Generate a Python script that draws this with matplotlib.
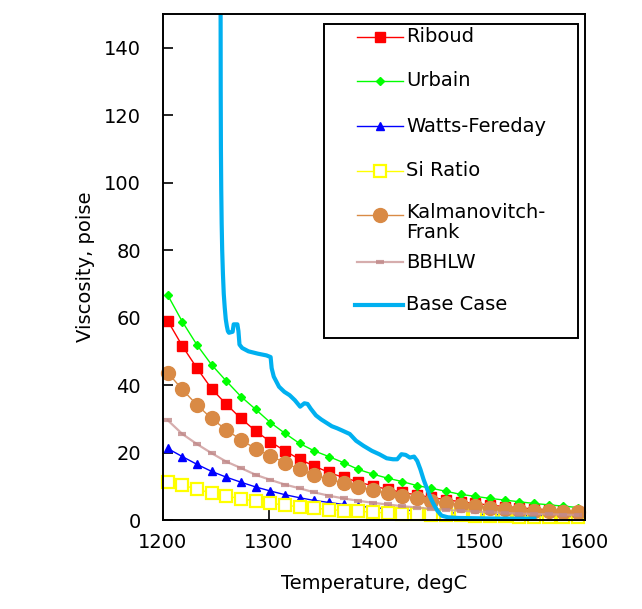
import matplotlib
matplotlib.use('Agg')
from matplotlib import pyplot as plt
from matplotlib.lines import Line2D
from matplotlib.patches import Rectangle

# temperatures of the model points, degC (25 degF steps)
temps = [1204.4, 1218.3, 1232.2, 1246.1, 1260.0, 1273.9, 1287.8, 1301.7, 1315.6, 1329.4,
         1343.3, 1357.2, 1371.1, 1385.0, 1398.9, 1412.8, 1426.7, 1440.6, 1454.4, 1468.3,
         1482.2, 1496.1, 1510.0, 1523.9, 1537.8, 1551.7, 1565.6, 1579.4, 1593.3]

riboud = [59.1, 51.6, 45.0, 38.9, 34.3, 30.1, 26.4, 23.2, 20.5, 18.0, 16.0, 14.1, 12.6, 11.3, 10.1,
          9.1, 8.2, 7.4, 6.7, 6.0, 5.4, 4.9, 4.4, 4.0, 3.6, 3.3, 3.0, 2.7, 2.5]
urbain = [66.7, 58.8, 51.9, 46.0, 41.2, 36.6, 32.8, 28.9, 25.7, 22.7, 20.5, 18.8, 17.0, 15.0, 13.6,
          12.4, 11.4, 10.2, 9.4, 8.5, 7.6, 7.0, 6.4, 5.9, 5.4, 4.9, 4.5, 4.1, 3.7]
watts = [21.2, 18.8, 16.5, 14.4, 12.7, 11.2, 9.8, 8.6, 7.5, 6.6, 5.8, 5.2, 4.6, 4.1, 3.7,
         3.3, 3.0, 2.7, 2.4, 2.2, 2.0, 1.8, 1.6, 1.5, 1.4, 1.3, 1.2, 1.1, 1.0]
si_ratio = [11.4, 10.4, 9.1, 8.0, 7.1, 6.3, 5.6, 5.0, 4.4, 3.9, 3.5, 3.1, 2.8, 2.6, 2.3,
            2.1, 1.9, 1.8, 1.6, 1.5, 1.4, 1.3, 1.2, 1.1, 1.0, 1.0, 0.9, 0.9, 0.8]
kalman = [43.7, 38.7, 34.1, 30.1, 26.7, 23.8, 21.1, 19.0, 17.0, 15.0, 13.4, 12.1, 11.0, 9.9, 8.9,
          7.9, 7.1, 6.4, 5.7, 5.1, 4.5, 4.1, 3.7, 3.3, 3.0, 2.8, 2.6, 2.4, 2.3]
bbhlw = [29.6, 25.5, 22.5, 19.8, 17.3, 15.4, 13.4, 11.9, 10.5, 9.4, 8.2, 7.2, 6.4, 5.7, 5.1,
         4.6, 4.1, 3.7, 3.3, 3.0, 2.7, 2.5, 2.3, 2.1, 1.9, 1.8, 1.7, 1.6, 1.5]

# measured base case curve
base_t = [1254.6, 1254.7, 1254.9, 1255.2, 1255.6, 1256.1, 1256.8, 1257.6, 1258.5, 1259.5,
          1260.5, 1261.5, 1262.5, 1266.0, 1267.0, 1270.5, 1271.5, 1272.5, 1275.0, 1281.0,
          1290.0, 1298.0, 1302.0, 1303.0, 1305.0, 1310.0, 1315.0, 1320.0, 1325.0, 1330.0,
          1334.0, 1337.0, 1340.0, 1345.0, 1350.0, 1355.0, 1360.0, 1365.0, 1370.0, 1377.0,
          1383.0, 1390.0, 1398.0, 1405.0, 1412.0, 1418.0, 1422.0, 1426.0, 1430.0, 1434.0,
          1438.0, 1441.0, 1444.0, 1447.0, 1450.0, 1453.0, 1456.0, 1460.0, 1464.0, 1470.0,
          1480.0, 1500.0, 1520.0, 1540.0, 1552.0]
base_v = [150.0, 127.0, 110.0, 98.0, 88.0, 80.0, 73.0, 67.0, 63.0, 59.5,
          57.5, 56.0, 55.5, 55.8, 58.0, 58.0, 56.0, 52.0, 51.0, 50.0,
          49.3, 48.8, 48.3, 45.0, 42.5, 39.5, 38.0, 37.0, 35.5, 33.6,
          34.6, 34.4, 33.0, 31.0, 29.8, 28.8, 27.8, 27.2, 26.5, 25.5,
          23.5, 22.0, 20.5, 19.5, 18.3, 18.0, 18.0, 19.5, 19.3, 18.5,
          18.8, 17.5, 15.0, 12.0, 9.5, 7.0, 5.0, 2.8, 1.3, 0.8,
          0.6, 0.5, 0.4, 0.4, 0.4]

labels = ['Riboud', 'Urbain', 'Watts-Fereday', 'Si Ratio', 'Kalmanovitch-\nFrank', 'BBHLW', 'Base Case']
xticks = [1200, 1300, 1400, 1500, 1600]
yticks = [0, 20, 40, 60, 80, 100, 120, 140]

plt.rcParams['font.family'] = ['DejaVu Sans']
plt.rcParams['font.size'] = 14

fig = plt.figure(figsize=(6.42, 6.09), dpi=100)
ax = fig.add_axes([163 / 642, 89 / 609, 422 / 642, 506 / 609])

styles = [
    dict(color='#FF0000', marker='s', ms=6.5, mfc='#FF0000', mec='#FF0000', lw=1.0),
    dict(color='#00FF00', marker='D', ms=4.5, mfc='#00FF00', mec='#00FF00', lw=1.0),
    dict(color='#0000FF', marker='^', ms=5.5, mfc='#0000FF', mec='#0000FF', lw=1.0),
    dict(color='#FFFF00', marker='s', ms=8.5, mfc='white', mec='#FFFF00', mew=1.6, lw=1.0),
    dict(color='#D98A45', marker='o', ms=10, mfc='#D98A45', mec='#D98A45', lw=1.0),
    dict(color='#CC9999', marker='_', ms=6, mec='#C08888', mew=3, lw=1.6, alpha=0.8),
]
series = [riboud, urbain, watts, si_ratio, kalman, bbhlw]

for vals, st in zip(series, styles):
    ax.plot(temps, vals, clip_on=False, **st)

base_style = dict(color='#00B0F0', lw=3.0)
ax.plot(base_t, base_v, **base_style)

ax.set_xlim(1200, 1600)
ax.set_ylim(0, 150)
ax.set_xticks(xticks)
ax.set_yticks(yticks)
ax.tick_params(axis='x', direction='in', length=7, width=1.2, pad=9)
ax.tick_params(axis='y', direction='in', length=7, width=1.2, pad=16)
for sp in ax.spines.values():
    sp.set_linewidth(1.4)
ax.set_xlabel('Temperature, degC', labelpad=16)
ax.set_ylabel('Viscosity, poise', labelpad=6)

# legend box drawn by hand to keep the original's uneven spacing
W, H = 422.0, 506.0
def axx(px):
    return (px - 163) / W
def axy(py):
    return (520 - py) / H

ax.add_patch(Rectangle((axx(324), axy(338)), axx(578) - axx(324), axy(24) - axy(338),
                       transform=ax.transAxes, facecolor='white', edgecolor='black',
                       lw=1.4, zorder=5, clip_on=False))
rows = [37, 81, 126, 171, 215, 262, 305]
for i, (lab, py) in enumerate(zip(labels, rows)):
    if i < len(styles):
        st = dict(styles[i])
        h = Line2D([axx(357), axx(403)], [axy(py), axy(py)], transform=ax.transAxes,
                   markevery=[], zorder=6, **st)
        ax.add_line(h)
        m = Line2D([axx(380)], [axy(py)], transform=ax.transAxes, zorder=7, lw=0,
                   **{k: v for k, v in st.items() if k not in ('lw', 'color')})
        ax.add_line(m)
    else:
        ax.add_line(Line2D([axx(355), axx(403)], [axy(py), axy(py)], transform=ax.transAxes,
                           zorder=6, **base_style))
    if '\n' in lab:
        ax.text(axx(406), axy(py - 12), lab, transform=ax.transAxes, va='top', ha='left',
                linespacing=1.1, zorder=8)
    else:
        ax.text(axx(406), axy(py), lab, transform=ax.transAxes, va='center', ha='left', zorder=8)

fig.savefig('out.png', dpi=100)
